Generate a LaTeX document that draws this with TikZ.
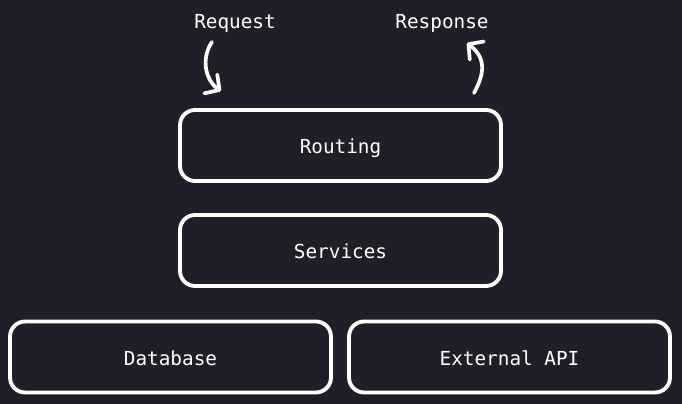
\documentclass[tikz,border=0pt]{standalone}
\usepackage{fontspec}
\setmonofont{DejaVu Sans Mono}
\usetikzlibrary{arrows.meta}
\definecolor{bg}{HTML}{1F1F27}

\begin{document}
\begin{tikzpicture}[x=0.02cm,y=-0.02cm,
  box/.style={draw=white, line width=2.2pt, rounded corners=0.3cm,
    minimum width=6.42cm, minimum height=1.42cm, text=white,
    text height=9.8pt, text depth=0.5pt,
    font=\ttfamily\fontsize{11}{13}\selectfont},
  lbl/.style={text=white, font=\ttfamily\fontsize{11}{13}\selectfont},
  flow/.style={draw=white, line width=2.1pt, line cap=round, line join=round,
    -{Straight Barb[length=6pt,width=13pt,line cap=round,line join=round]}}]
\fill[bg] (0,0) rectangle (682,404);
\node[box] (routing) at (340.5,145.5) {Routing};
\node[box] (services) at (340.5,250.5) {Services};
\node[box] (db) at (170.5,357) {Database};
\node[box] (api) at (509.5,357) {External API};
\node[lbl] (req) at (235,23.5) {Request};
\node[lbl] (resp) at (442,23.5) {Response};
\coordinate (reqA) at (212,42);
\coordinate (reqB) at (221,91);
\coordinate (respA) at (474,93);
\coordinate (respB) at (467,43);
\draw[flow] (reqA) .. controls (201,58) and (205,80) .. (reqB);
\draw[flow] (respA) .. controls (482,78) and (489,60) .. (respB);
\end{tikzpicture}
\end{document}
